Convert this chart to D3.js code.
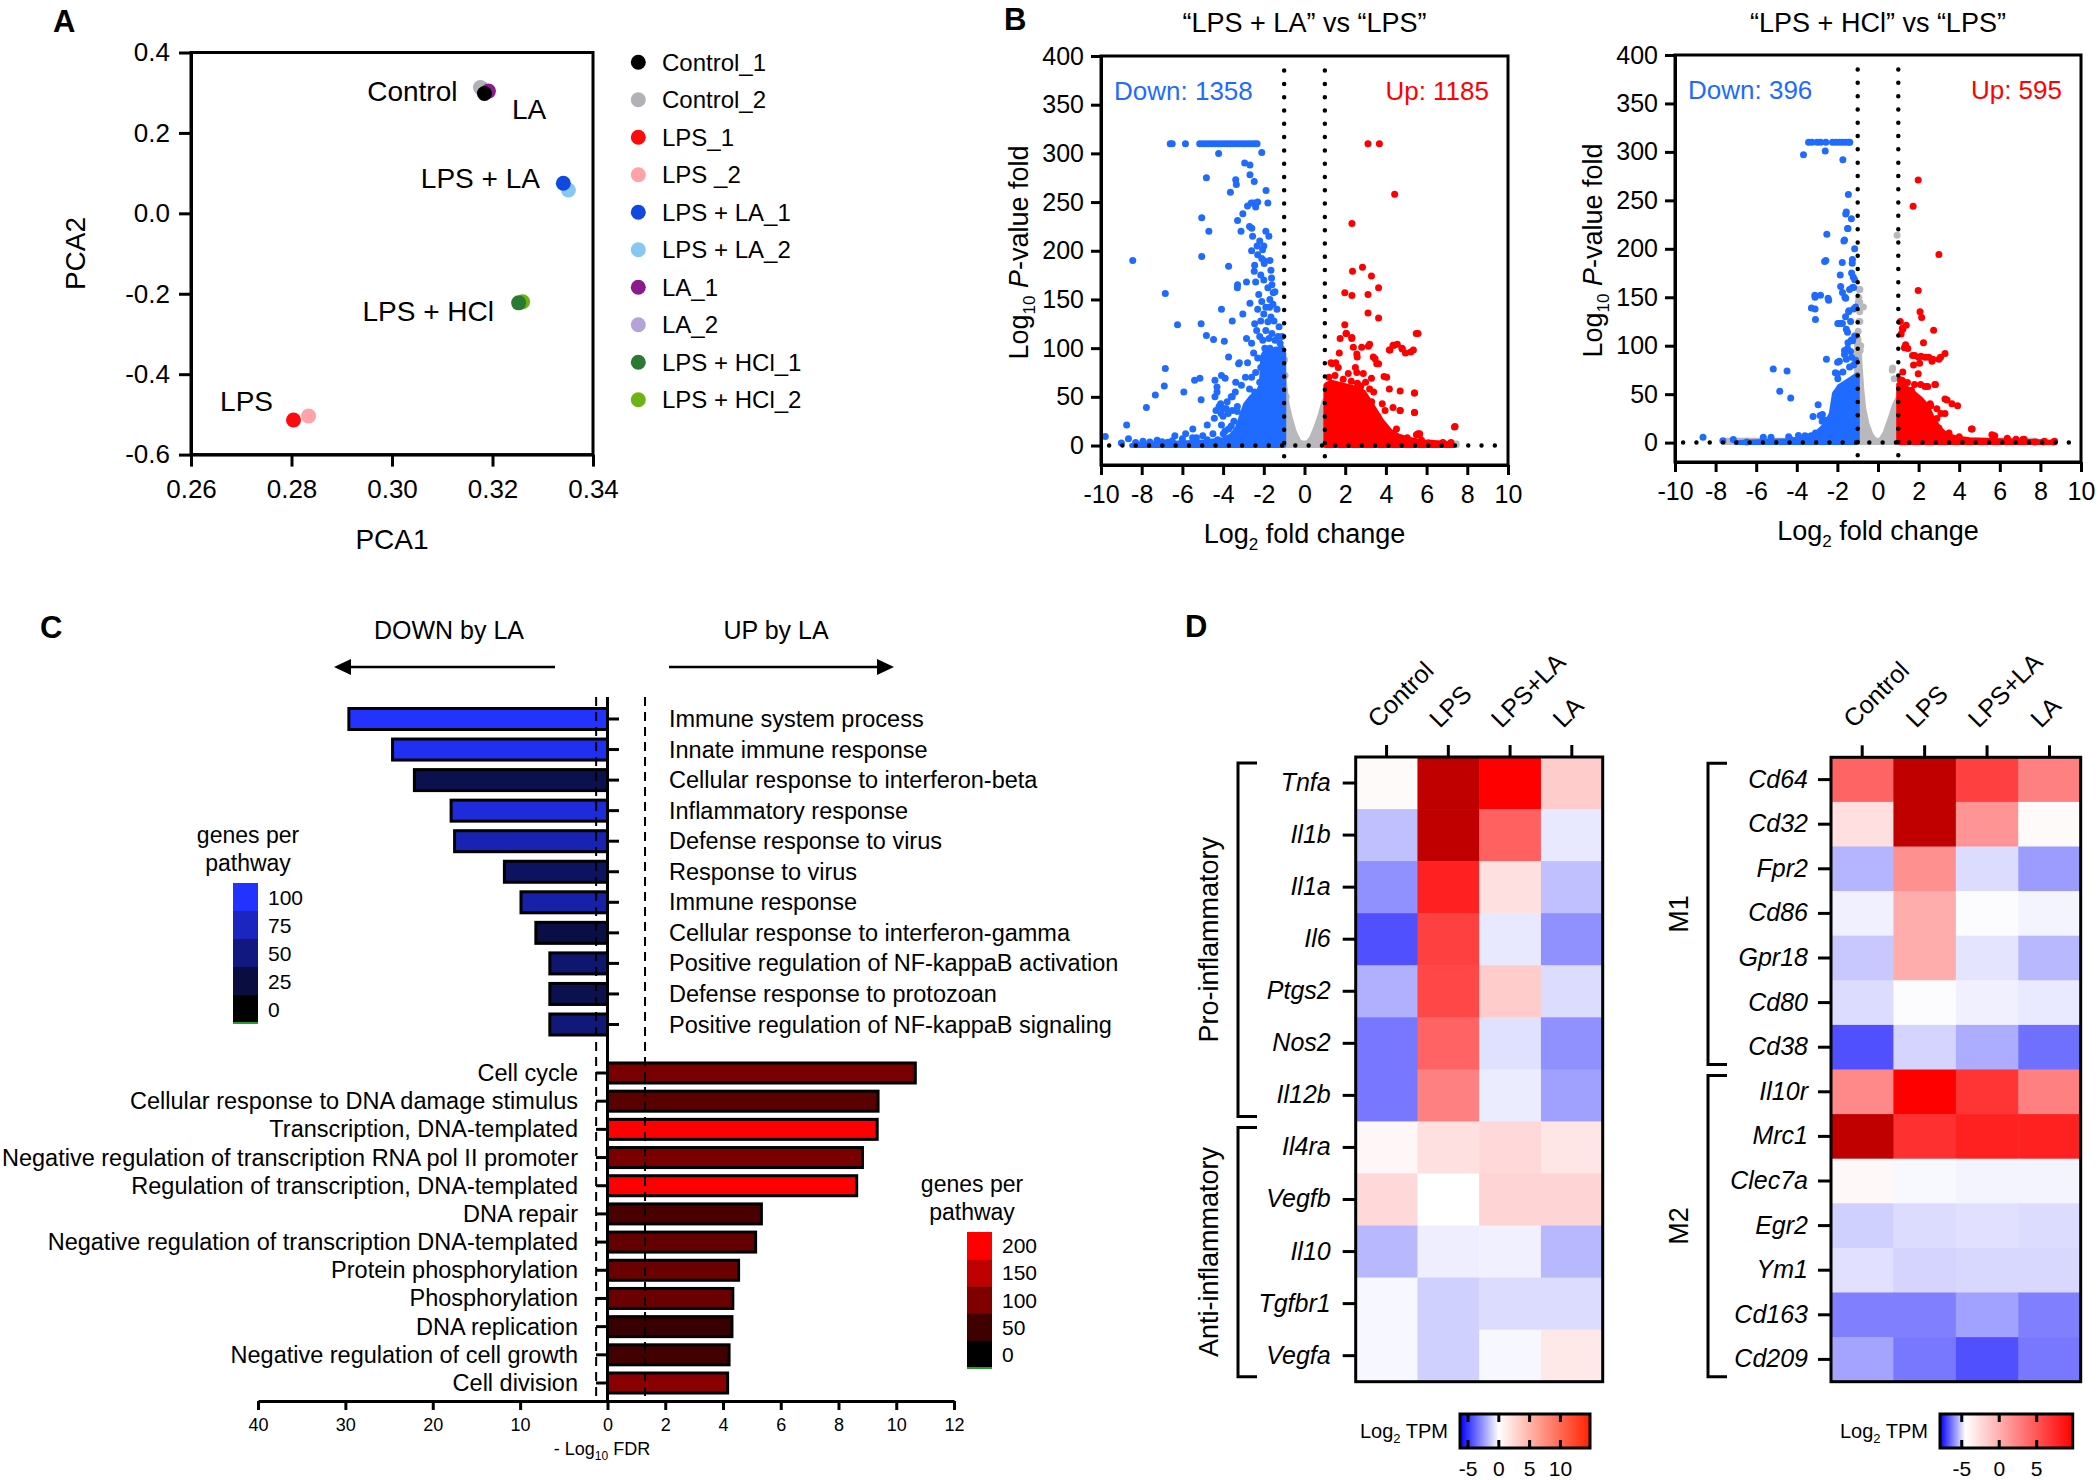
<!DOCTYPE html>
<html><head><meta charset="utf-8">
<script src="https://cdn.jsdelivr.net/npm/d3@7"></script>
<style>
body{margin:0;background:#fff}
svg{display:block}
text{font-family:"Liberation Sans",Arial,Helvetica,sans-serif;fill:#000}
</style>
</head><body>
<svg id="fig" width="2100" height="1480"></svg>
<script>
// ===================== DATA =====================
// Panel A: PCA
const pcaSamples = ["Control_1","Control_2","LPS_1","LPS _2","LPS + LA_1","LPS + LA_2","LA_1","LA_2","LPS + HCl_1","LPS + HCl_2"];
const pca1 = [0.3184,0.3176,0.2804,0.2834,0.3341,0.3351,0.3192,0.3178,0.3252,0.3260];
const pca2 = [0.298,0.313,-0.514,-0.504,0.075,0.058,0.304,0.311,-0.2226,-0.220];
const pcaGroups = ["Control","LA","LPS + LA","LPS + HCl","LPS"];
const pcaGroupAnchor = [0,6,4,8,2];
const pcaXTicks = [0.26,0.28,0.30,0.32,0.34];
const pcaYTicks = [-0.6,-0.4,-0.2,0.0,0.2,0.4];

// Panel B: volcano plots  [log2FC, -log10 p]
const volcXTicks = [-10,-8,-6,-4,-2,0,2,4,6,8,10];
const volcYTicks = [0,50,100,150,200,250,300,350,400];
const volc1Title = "\u201CLPS + LA\u201D vs \u201CLPS\u201D";
const volc2Title = "\u201CLPS + HCl\u201D vs \u201CLPS\u201D";
const volc1Counts = [1358,1185];
const volc2Counts = [396,595];
const volc1Down = [[-9.79,9.2],[-8.74,21],[-8.44,190],[-7.77,39],[-7.33,52],[-6.89,61],[-6.84,156],[-6.84,79],[-6.24,124],[-5.93,55],[-5.4,67],[-5.14,69],[-5.08,47],[-5.08,125],[-5.05,194],[-5.05,234],[-4.82,275],[-4.82,113],[-4.70,220],[-4.47,109],[-4.40,67],[-4.35,36],[-4.22,300],[-4.12,43],[-4.08,140],[-3.94,107],[-3.73,184],[-3.64,260],[-3.38,273],[-3.35,268],[-3.29,231],[-3.29,165],[-3.24,84],[-3.12,220],[-3.03,238],[-2.94,290],[-2.68,288],[-2.68,278],[-2.62,249],[-2.47,271],[-2.1,301],[-1.89,262],[-1.80,249],[-2.59,223],[-2.33,205],[-2.06,201],[-2.47,179],[-1.98,187],[-1.62,172],[-1.54,157],[-1.71,142],[-2.85,168],[-2.68,146],[-3.55,128],[-3.03,135],[-3.73,91],[-4.08,72],[-4.43,28],[-4.78,21],[-5.49,17],[-5.84,12],[-6.37,10],[-7.24,5.5],[-7.94,4.4],[-8.65,7],[-3.55,50],[-3.9,69],[-3.38,65],[-3.47,25],[-3.73,17],[-3.99,12],[-4.08,21],[-4.26,6],[-4.78,6],[-5.31,8],[-6.01,4.4],[-6.72,3.3],
 [-1.2,105],[-1.3,112],[-1.45,108],[-1.6,115],[-1.75,110],[-1.9,118],[-2.05,108],[-2.2,112],[-2.35,118],[-1.25,122],[-1.5,128],[-1.65,132],[-1.8,127],[-2.0,135],[-2.15,128],[-2.3,140],[-2.45,125],[-1.35,140],[-1.55,145],[-1.7,150],[-1.9,142],[-2.1,148],[-2.25,155],[-1.45,158],[-1.8,162],[-2.0,170],[-1.6,165],[-1.15,100],[-1.4,98],[-1.95,100],[-1.1,112],[-1.7,100],
 [-2.2,65],[-2.4,75],[-2.6,70],[-2.8,85],[-2.3,90],[-2.5,95],[-3.1,62],[-2.7,58],[-3.4,55],[-3.6,50],[-3.8,45],[-3.3,40],[-4.0,38],[-2.15,80],[-2.45,55],[-2.9,70],[-3.2,85],[-2.6,105],[-2.85,110],
 [-4.3,60],[-4.3,55],[-4.4,50],[-4.2,40],[-4.1,33],[-4.0,30],[-3.85,38],[-3.75,33],[-3.55,36],[-3.3,35],[-3.6,20],[-3.9,15],[-4.5,12],[-5.0,10],[-5.5,8],[-6.0,7],[-6.5,5],[-7.0,4],[-7.6,3.5],[-8.3,3],[-9.0,2.5],
 [-2.8,246],[-2.5,249],[-2.3,250],[-2.4,245],[-2.7,225],[-2.55,215],[-2.3,196],[-2.1,192],[-2.0,190],[-2.6,200],[-2.45,185],[-3.3,162],[-2.2,210],[-2.0,205],[-1.9,220],[-1.75,215],[-1.7,190],[-1.65,180],[-2.4,168],[-2.15,175],
 [-6.6,310],[-6.5,310],[-5.85,310],[-5.15,310],[-5.0,310],[-4.85,310],[-4.7,310],[-4.55,310],[-4.4,310],[-4.25,310],[-4.1,310],[-3.95,310],[-3.8,310],[-3.65,310],[-3.5,310],[-3.35,310],[-3.2,310],[-3.05,310],[-2.9,310],[-2.75,310],[-2.6,310],[-2.45,310],[-2.33,310]];
const volc1Up = [[3.12,310],[3.68,310],[4.43,258],[2.33,228],[2.36,179],[2.85,183],[3.29,174],[3.64,162],[1.98,157],[2.33,154],[3.12,155],[3.12,136],[3.64,131],[1.98,124],[2.06,115],[2.33,111],[5.49,115],[4.35,103],[4.56,104],[4.17,98],[4.79,100],[4.96,95],[5.22,96],[3.2,104],[3.47,89],[3.64,84],[3.91,71],[4.17,58],[4.70,56],[5.40,54],[5.40,34],[4.70,36],[5.58,12],[5.66,12],[7.37,19],[6.8,2.6],[6.1,2.6],[1.36,84],[1.54,85],[1.71,95],[1.27,61],[2.59,91],[2.77,61],[2.5,80],[3.29,69],[3.82,43],[4.35,39],[4.52,17],[3.99,14],[5.05,8],[5.75,5.5],
 [2.04,115],[2.32,110],[2.4,101],[2.57,94],[2.81,101],[3.14,102],[3.38,91],[3.55,84],[2.89,74],[2.57,75],[2.15,74],[1.66,80],[1.4,60],[4.04,70],[3.96,36],[4.7,36],[5.41,54],[5.41,34],[5.58,115],[5.35,98],[4.8,99],[4.4,103],[4.2,98],[7.4,19.5],[5.5,11],[5.65,11],[7.2,3],[6.8,3],[4.5,7],[4.75,7],[3.3,45],[3.6,30],[3.9,20],[3.45,15],[3.0,65],[3.2,58],[3.4,55],[1.2,70],[1.5,72],[1.9,68],[2.3,66],[2.6,64],[1.75,110],[1.3,85]];
const volc1DownCore = [[-1.02,0],[-1.02,95],[-1.3,99],[-1.6,98],[-1.9,97],[-2.05,92],[-2.12,62],[-2.3,54],[-2.6,50],[-2.9,42],[-3.1,30],[-3.3,18],[-3.6,10],[-4.0,6],[-5,3.5],[-6.5,2],[-8,1],[-8.5,0]];
const volc1UpCore = [[1.05,0],[1.05,62],[1.3,65],[1.7,63],[2.1,61],[2.5,59],[2.9,55],[3.2,45],[3.5,35],[3.8,25],[4.2,15],[4.6,10],[5.0,7],[5.5,5],[6.0,3.5],[7.0,2],[7.3,0]];
const volc1NsCore = [[-1.05,0],[-1.05,76],[-0.97,62],[-0.85,42],[-0.7,28],[-0.5,14],[-0.3,5],[-0.1,1.5],[0.12,1.5],[0.35,8],[0.55,18],[0.75,30],[0.95,45],[1.05,48],[1.05,0]];
const volc1NsBand = [[-8,0],[7.5,0],[7.5,2.5],[-8,2.5]];
const volc1NsPts = [[-0.98,88],[-0.95,72],[-0.9,50]];

const volc2Down = [[-3.42,310],[-3.25,310],[-3.0,310],[-2.83,310],[-2.57,310],[-2.24,310],[-2.07,310],[-1.9,310],[-1.75,310],[-1.6,310],[-1.45,310],[-1.39,310],
 [-3.67,297],[-2.6,301],[-1.73,292],[-1.46,256],[-1.56,238],[-1.31,231],[-1.48,221],[-2.52,215],[-1.65,209],[-2.57,188],[-1.76,186],[-1.26,189],[-1.86,173],[-1.22,171],[-3.11,152],[-2.83,152],[-2.46,149],[-3.28,139],[-3.08,127],[-1.81,123],[-1.98,123],[-1.43,136],[-1.63,150],[-1.26,160],[-2.54,86],[-1.9,84],[-1.56,86],[-5.16,76],[-4.48,74],[-4.84,53],[-4.3,46],[-2.95,39],[-3.2,27],[-2.74,29],[-2.6,23],[-3.92,7.4],[-4.3,3.3],[-5.27,5.6],[-5.65,5.6],[-6.46,0.7],[-7.13,3.3],[-8.62,5.6],[-7.64,1.9],[-3.54,6.3],[-3.08,10],[-2.24,17],[-2.15,36],[-2.07,51],[-1.98,66],[-1.73,73],[-1.65,91],[-1.48,103],[-1.31,106],[-1.56,117],[-1.39,62],[-1.81,43],
 [-1.59,236],[-1.5,221],[-1.68,208],[-2.63,187],[-1.84,161],[-1.75,155],[-1.27,185],[-1.3,175],[-1.15,168],[-1.2,160],[-1.4,158],[-3.1,150],[-2.43,147],[-1.59,149],[-3.1,138],[-1.9,123],[-1.75,123],[-1.5,114],[-1.6,130],[-1.45,135],[-1.2,138],[-1.5,97],[-1.35,94],[-1.65,95],[-1.99,83],[-2.0,71],[-2.1,72],[-2.85,28],[-2.75,22],[-2.5,14],[-2.35,10],[-2.8,10],[-3.6,7],[-3.3,7],[-4.4,6],[-1.2,80],[-1.3,88],[-1.1,85],[-1.4,78],[-1.25,105],[-1.15,110],[-1.35,125],[-1.1,140],[-1.15,200]];
const volc2Up = [[1.98,271],[1.73,244],[3.0,194],[1.98,157],[2.07,135],[2.15,129],[2.74,116],[1.22,117],[1.39,121],[1.14,112],[2.24,103],[1.36,101],[1.47,97],[3.3,92],[3.08,88],[2.12,89],[2.32,88],[1.81,90],[2.66,84],[1.22,73],[1.98,71],[2.83,60],[2.32,58],[1.65,54],[3.3,45],[3.64,40],[3.92,38],[2.57,40],[3.3,30],[4.6,14],[5.61,8],[6.37,4.4],[7.13,3.3],[8.14,0.7],[8.65,0.7],[7.72,0.7],[4.0,6],[3.5,10],
 [1.1,125],[1.2,118],[1.3,98],[1.7,90],[2.0,88],[2.5,88],[3.0,86],[2.7,86],[1.75,80],[2.05,82],[1.1,65],[1.2,64],[1.45,62],[1.8,60],[2.1,60],[2.45,58],[2.8,60],[3.4,44],[2.6,38],[2.9,35],[3.1,30],[2.9,25],[2.7,20],[3.0,15],[4.64,14],[5.75,7],[7.2,3.5],[6.8,3.5],[6.4,2.5],[8.2,1.5],[8.7,1.5]];
const volc2DownCore = [[-1.02,0],[-1.02,70],[-1.3,66],[-1.6,62],[-1.9,58],[-2.15,50],[-2.3,30],[-2.6,18],[-3.0,10],[-3.5,5],[-4.5,2],[-6,1],[-7,0]];
const volc2UpCore = [[1.02,0],[1.02,60],[1.3,58],[1.7,52],[2.1,45],[2.4,38],[2.7,25],[3.0,15],[3.3,9],[3.8,5],[4.5,3],[6,2],[7.5,1.2],[8.6,0.5],[8.7,0]];
const volc2NsCore = [[-1.05,0],[-1.05,110],[-0.95,108],[-0.88,80],[-0.8,55],[-0.7,35],[-0.55,20],[-0.35,8],[-0.1,1.5],[0.1,1.5],[0.35,10],[0.6,25],[0.8,38],[0.95,45],[1.02,45],[1.02,0]];
const volc2NsBand = [[-7.5,0],[7.8,0],[7.8,2.5],[-7.5,2.5]];
const volc2NsPts = [[-0.89,158],[-0.72,140],[-0.89,125],[0.94,214],[0.72,77],[0.8,66],[-0.95,150],[-0.9,145],[-0.98,115],[-0.95,125],[-0.9,135],[-0.97,145],[-0.92,158],[-0.85,100],[-0.88,95],[0.7,75]];

// Panel C: GO enrichment
const downTerms = ["Immune system process","Innate immune response","Cellular response to interferon-beta","Inflammatory response","Defense response to virus","Response to virus","Immune response","Cellular response to interferon-gamma","Positive regulation of NF-kappaB activation","Defense response to protozoan","Positive regulation of NF-kappaB signaling"];
const downFDR = [29.6,24.6,22.1,17.9,17.5,11.8,9.9,8.2,6.6,6.6,6.6];
const downGenes = [100,95,31,86,70,38,66,28,44,31,47];
const upTerms = ["Cell cycle","Cellular response to DNA damage stimulus","Transcription, DNA-templated","Negative regulation of transcription RNA pol II promoter","Regulation of transcription, DNA-templated","DNA repair","Negative regulation of transcription DNA-templated","Protein phosphorylation","Phosphorylation","DNA replication","Negative regulation of cell growth","Cell division"];
const upFDR = [10.66,9.37,9.34,8.83,8.63,5.33,5.13,4.54,4.34,4.31,4.21,4.16];
const upGenes = [95,71,200,96,200,58,79,83,83,44,52,108];
const fdrLeftTicks = [40,30,20,10,0];
const fdrRightTicks = [2,4,6,8,10,12];
const blueLegendTicks = [100,75,50,25,0];
const redLegendTicks = [200,150,100,50,0];

// Panel D: heatmaps (Log2 TPM)
const heatColumns = ["Control","LPS","LPS+LA","LA"];
const proGenes = ["Tnfa","Il1b","Il1a","Il6","Ptgs2","Nos2","Il12b"];
const antiGenes = ["Il4ra","Vegfb","Il10","Tgfbr1","Vegfa"];
const leftValues = [
 [0.2,14,10,2],
 [-1.56,14,6.2,-0.57],
 [-2.74,8.7,1.2,-1.56],
 [-4.32,7.5,-0.57,-2.74],
 [-1.96,7.2,2.0,-0.87],
 [-3.35,6.1,-0.76,-2.74],
 [-3.35,5.0,-0.47,-2.35],
 [0.3,1.2,1.5,1.0],
 [1.5,0,1.7,1.7],
 [-1.76,-0.42,-0.37,-1.76],
 [-0.19,-1.15,-0.87,-0.87],
 [-0.19,-1.15,-0.19,0.9]];
const m1Genes = ["Cd64","Cd32","Fpr2","Cd86","Gpr18","Cd80","Cd38"];
const m2Genes = ["Il10r","Mrc1","Clec7a","Egr2","Ym1","Cd163","Cd209"];
const rightValues = [
 [4.2,13,6.2,2.65],
 [-2.7,13,1.5,-4.2],
 [-5.5,1.7,-4.97,-5.82],
 [-4.7,0.15,-4.54,-4.65],
 [-5.23,0.15,-4.86,-5.45],
 [-4.97,-4.54,-4.7,-4.8],
 [-6.83,-5.07,-5.6,-6.4],
 [2.2,9.8,6.9,2.65],
 [13,7.1,8.0,8.0],
 [-4.1,-4.6,-4.65,-4.65],
 [-5.13,-4.97,-4.9,-4.97],
 [-4.9,-5.07,-5.02,-5.02],
 [-6.2,-6.2,-5.76,-6.2],
 [-5.71,-6.3,-6.83,-6.3]];
const leftLegendTicks = [-5,0,5,10];
const rightLegendTicks = [-5,0,5];

// ===================== DRAWING =====================
const FONT = '"Liberation Sans", Arial, Helvetica, sans-serif';
const svg = d3.select("#fig");
svg.append("rect").attr("width",2100).attr("height",1480).attr("fill","#fff");

function styleAxis(g, fs){
  g.attr("font-family",FONT).attr("font-size",fs);
  g.selectAll("path.domain").attr("stroke","#000").attr("stroke-width",3);
  g.selectAll(".tick line").attr("stroke","#000").attr("stroke-width",3);
  g.selectAll(".tick text").attr("fill","#000");
}
function panelLabel(t,x,y){
  svg.append("text").attr("x",x).attr("y",y).attr("font-size",31).attr("font-weight","bold").text(t);
}
function subText(sel, parts){
  parts.forEach(p=>{
    const t = sel.append("tspan").text(p[0]);
    if(p[1]==='sub'){ t.attr("font-size",p[2]).attr("dy",p[3]); }
    else if(p[1]==='up'){ t.attr("dy",p[3]); }
    else if(p[1]==='it'){ t.attr("font-style","italic"); }
  });
}

// ---------- Panel A ----------
panelLabel("A",53,32);
{
  const x = d3.scaleLinear([0.26,0.34],[191,593]);
  const y = d3.scaleLinear([-0.6,0.4],[454.6,52.5]);
  const g = svg.append("g");
  const ax = g.append("g").attr("transform","translate(0,454.6)")
    .call(d3.axisBottom(x).tickValues(pcaXTicks).tickFormat(d=>d.toFixed(2)).tickSize(12).tickPadding(13).tickSizeOuter(0));
  styleAxis(ax,26);
  const ay = g.append("g").attr("transform","translate(191,0)")
    .call(d3.axisLeft(y).tickValues(pcaYTicks).tickFormat(d=>d.toFixed(1)).tickSize(12).tickPadding(9).tickSizeOuter(0));
  styleAxis(ay,26);
  g.append("rect").attr("x",191).attr("y",52.5).attr("width",402).attr("height",402.1)
    .attr("fill","none").attr("stroke","#000").attr("stroke-width",3);
  const pcaColors = ["#000000","#b1b1b6","#ff0a0a","#ffa2aa","#1048e0","#86c8f2","#8b1a8e","#b4a2d8","#2b7a33","#6cb414"];
  const order = [7,1,3,5,9,6,2,4,8,0];
  g.selectAll("circle.pt").data(order).join("circle")
    .attr("cx",i=>x(pca1[i])).attr("cy",i=>y(pca2[i])).attr("r",7.5).attr("fill",i=>pcaColors[i]);
  const offs = [[-27,7.5,"end"],[23.5,27.5,"start"],[-23.4,4.8,"end"],[-24.6,18,"end"],[-20.5,-9,"end"]];
  pcaGroups.forEach((lab,k)=>{
    const i = pcaGroupAnchor[k];
    g.append("text").attr("x",x(pca1[i])+offs[k][0]).attr("y",y(pca2[i])+offs[k][1])
      .attr("text-anchor",offs[k][2]).attr("font-size",28).text(lab);
  });
  g.append("text").attr("x",392).attr("y",549).attr("text-anchor","middle").attr("font-size",28).text("PCA1");
  g.append("text").attr("transform","translate(85,253.5) rotate(-90)").attr("text-anchor","middle").attr("font-size",28).text("PCA2");
  const lg = g.append("g");
  pcaSamples.forEach((s,i)=>{
    const yy = 62.3 + i*37.5;
    lg.append("circle").attr("cx",638.3).attr("cy",yy).attr("r",7.5).attr("fill",pcaColors[i]);
    lg.append("text").attr("x",662).attr("y",yy+8.5).attr("font-size",24).text(s);
  });
}

// ---------- Panel B ----------
panelLabel("B",1004,30);
const BLUE = "#1f6bff", RED = "#ff0000", GRAY = "#b9b9bd";
function volcano(c){
  const x = d3.scaleLinear([-10,10],[c.left,c.right]);
  const y = d3.scaleLinear([-20,400],[c.bottom,c.top]);
  const g = svg.append("g");
  const cid = "clip"+c.id;
  g.append("clipPath").attr("id",cid).append("rect").attr("x",c.left).attr("y",c.top).attr("width",c.right-c.left).attr("height",c.bottom-c.top);
  const pg = g.append("g").attr("clip-path",`url(#${cid})`);
  const line = d3.line().x(d=>x(d[0])).y(d=>y(d[1]));
  const poly = (pts,col)=>pg.append("path").attr("d",line(pts)+"Z").attr("fill",col).attr("stroke",col).attr("stroke-width",5).attr("stroke-linejoin","round");
  const pts = (data,col)=>pg.append("g").selectAll("circle").data(data).join("circle").attr("cx",d=>x(d[0])).attr("cy",d=>y(d[1])).attr("r",3.5).attr("fill",col);
  poly(c.nsBand,GRAY);
  poly(c.nsCore,GRAY);
  pts(c.nsPts,GRAY);
  poly(c.downCore,BLUE);
  pts(c.down,BLUE);
  poly(c.upCore,RED);
  pts(c.up,RED);
  const dot = (x1,y1,x2,y2)=>pg.append("line").attr("x1",x1).attr("y1",y1).attr("x2",x2).attr("y2",y2)
    .attr("stroke","#000").attr("stroke-width",4.5).attr("stroke-linecap","round").attr("stroke-dasharray","0,13.3");
  dot(x(-9.6),y(0),x(10),y(0));
  dot(x(-1),y(385),x(-1),y(-17));
  dot(x(1),y(385),x(1),y(-17));
  const ax = g.append("g").attr("transform",`translate(0,${c.bottom})`)
    .call(d3.axisBottom(x).tickValues(volcXTicks).tickFormat(d=>String(d)).tickSize(10).tickPadding(10).tickSizeOuter(0));
  styleAxis(ax,25);
  const ay = g.append("g").attr("transform",`translate(${c.left},0)`)
    .call(d3.axisLeft(y).tickValues(volcYTicks).tickSize(10).tickPadding(7).tickSizeOuter(0));
  styleAxis(ay,25);
  g.append("rect").attr("x",c.left).attr("y",c.top).attr("width",c.right-c.left).attr("height",c.bottom-c.top)
    .attr("fill","none").attr("stroke","#000").attr("stroke-width",3);
  g.append("text").attr("x",(c.left+c.right)/2).attr("y",32).attr("text-anchor","middle").attr("font-size",27).text(c.title);
  g.append("text").attr("x",c.left+13).attr("y",c.top+44).attr("font-size",26).style("fill",BLUE).text("Down: "+c.counts[0]);
  g.append("text").attr("x",c.right-19).attr("y",c.top+44).attr("text-anchor","end").attr("font-size",26).style("fill",RED).text("Up: "+c.counts[1]);
  const xl = g.append("text").attr("x",(c.left+c.right)/2).attr("y",c.bottom+78).attr("text-anchor","middle").attr("font-size",27);
  subText(xl,[["Log"],["2",'sub',17,7],[" fold change",'up',0,-7]]);
  const yl = g.append("text").attr("transform",`translate(${c.left-73},${(c.top+c.bottom)/2-8}) rotate(-90)`).attr("text-anchor","middle").attr("font-size",27);
  subText(yl,[["Log"],["10",'sub',17,7],[" ",'up',0,-7],["P",'it'],["-value fold"]]);
}
volcano({id:1,left:1101,right:1508,top:56,bottom:465,title:volc1Title,counts:volc1Counts,down:volc1Down,up:volc1Up,downCore:volc1DownCore,upCore:volc1UpCore,nsCore:volc1NsCore,nsBand:volc1NsBand,nsPts:volc1NsPts});
volcano({id:2,left:1675,right:2081,top:55,bottom:462,title:volc2Title,counts:volc2Counts,down:volc2Down,up:volc2Up,downCore:volc2DownCore,upCore:volc2UpCore,nsCore:volc2NsCore,nsBand:volc2NsBand,nsPts:volc2NsPts});

// ---------- Panel C ----------
panelLabel("C",40,638);
{
  const g = svg.append("g");
  const xL = d3.scaleLinear([0,40],[607.5,258]);
  const xR = d3.scaleLinear([0,12],[607.5,954]);
  const yTop = d3.scalePoint(downTerms,[719,1024.5]);
  const yBot = d3.scalePoint(upTerms,[1073,1383]);
  const blueC = d3.scaleLinear([0,100],["#000000","#2232ff"]);
  const redC = d3.scaleLinear([0,200],["#000000","#ff0000"]);
  const axisTop = 697, axisBottom = 1401;
  g.append("text").attr("x",449).attr("y",639).attr("text-anchor","middle").attr("font-size",25).text("DOWN by LA");
  g.append("text").attr("x",776).attr("y",639).attr("text-anchor","middle").attr("font-size",25).text("UP by LA");
  g.append("line").attr("x1",348).attr("x2",555).attr("y1",667).attr("y2",667).attr("stroke","#000").attr("stroke-width",2.5);
  g.append("path").attr("d","M334,667 L351,659 L351,675 Z").attr("fill","#000");
  g.append("line").attr("x1",669).attr("x2",880).attr("y1",667).attr("y2",667).attr("stroke","#000").attr("stroke-width",2.5);
  g.append("path").attr("d","M894,667 L877,659 L877,675 Z").attr("fill","#000");
  g.selectAll("rect.dn").data(downTerms).join("rect")
    .attr("x",(d,i)=>xL(downFDR[i])).attr("y",d=>yTop(d)-10.5).attr("width",(d,i)=>xL(0)-xL(downFDR[i])).attr("height",21)
    .attr("fill",(d,i)=>blueC(downGenes[i])).attr("stroke","#000").attr("stroke-width",3);
  g.selectAll("rect.up").data(upTerms).join("rect")
    .attr("x",xR(0)).attr("y",d=>yBot(d)-10).attr("width",(d,i)=>xR(upFDR[i])-xR(0)).attr("height",20)
    .attr("fill",(d,i)=>redC(upGenes[i])).attr("stroke","#000").attr("stroke-width",3);
  [xL(1.3),xR(1.3)].forEach(xx=>g.append("line").attr("x1",xx).attr("x2",xx).attr("y1",axisTop).attr("y2",axisBottom)
    .attr("stroke","#000").attr("stroke-width",2).attr("stroke-dasharray","9,6"));
  g.append("line").attr("x1",607.5).attr("x2",607.5).attr("y1",axisTop).attr("y2",axisBottom).attr("stroke","#000").attr("stroke-width",3);
  downTerms.forEach(d=>g.append("line").attr("x1",607.5).attr("x2",619).attr("y1",yTop(d)).attr("y2",yTop(d)).attr("stroke","#000").attr("stroke-width",3));
  upTerms.forEach(d=>g.append("line").attr("x1",596).attr("x2",607.5).attr("y1",yBot(d)).attr("y2",yBot(d)).attr("stroke","#000").attr("stroke-width",3));
  g.selectAll("text.dn").data(downTerms).join("text").attr("x",669).attr("y",d=>yTop(d)+8).attr("font-size",23.5).text(d=>d);
  g.selectAll("text.up").data(upTerms).join("text").attr("x",578).attr("y",d=>yBot(d)+8).attr("text-anchor","end").attr("font-size",23.5).text(d=>d);
  const a1 = g.append("g").attr("transform",`translate(0,${axisBottom})`)
    .call(d3.axisBottom(xL).tickValues(fdrLeftTicks).tickSize(9).tickPadding(8).tickSizeOuter(0));
  styleAxis(a1,18);
  const a2 = g.append("g").attr("transform",`translate(0,${axisBottom})`)
    .call(d3.axisBottom(xR).tickValues(fdrRightTicks).tickSize(9).tickPadding(8).tickSizeOuter(0));
  styleAxis(a2,18);
  const fl = g.append("text").attr("x",602).attr("y",1455).attr("text-anchor","middle").attr("font-size",18);
  subText(fl,[["- Log"],["10",'sub',12,5],[" FDR",'up',0,-5]]);
  function legend(cx, barX, barTop, blockH, ticks, cs){
    g.append("text").attr("x",cx).attr("y",barTop-40).attr("text-anchor","middle").attr("font-size",23).text("genes per");
    g.append("text").attr("x",cx).attr("y",barTop-12).attr("text-anchor","middle").attr("font-size",23).text("pathway");
    ticks.forEach((t,i)=>{
      g.append("rect").attr("x",barX).attr("y",barTop+i*blockH).attr("width",25).attr("height",blockH+0.5).attr("fill",cs(t));
      g.append("text").attr("x",barX+35).attr("y",barTop+i*blockH+blockH/2+7.5).attr("font-size",21).text(t);
    });
    g.append("line").attr("x1",barX).attr("x2",barX+25).attr("y1",barTop+ticks.length*blockH).attr("y2",barTop+ticks.length*blockH).attr("stroke","#2a9a2a").attr("stroke-width",2);
  }
  legend(248,233,883,28,blueLegendTicks,blueC);
  legend(972,967,1232,27.2,redLegendTicks,redC);
}

// ---------- Panel D ----------
panelLabel("D",1185,637);
function heatmap(c){
  const g = svg.append("g");
  const genes = c.groups[0].genes.concat(c.groups[1].genes);
  const x = d3.scaleBand(heatColumns,[c.left,c.right]);
  const y = d3.scaleBand(genes,[c.top,c.bottom]);
  genes.forEach((gname,r)=>{
    heatColumns.forEach((col,k)=>{
      g.append("rect").attr("x",x(col)).attr("y",y(gname)).attr("width",x.bandwidth()+0.6).attr("height",y.bandwidth()+0.6)
        .attr("fill",c.color(c.values[r][k]));
    });
  });
  g.append("rect").attr("x",c.left).attr("y",c.top).attr("width",c.right-c.left).attr("height",c.bottom-c.top)
    .attr("fill","none").attr("stroke","#000").attr("stroke-width",3);
  const ay = g.append("g").attr("transform",`translate(${c.left},0)`)
    .call(d3.axisLeft(y).tickSize(13).tickPadding(c.labelPad).tickSizeOuter(0));
  styleAxis(ay,25);
  ay.select("path.domain").remove();
  ay.selectAll(".tick text").attr("font-style","italic");
  const ax = g.append("g").attr("transform",`translate(0,${c.top})`)
    .call(d3.axisTop(x).tickSize(12).tickFormat("").tickSizeOuter(0));
  styleAxis(ax,25);
  ax.select("path.domain").remove();
  heatColumns.forEach(col=>{
    g.append("text").attr("transform",`translate(${x(col)+x.bandwidth()/2-8.5},729) rotate(-45)`).attr("font-size",25).text(col);
  });
  c.groups.forEach(gr=>{
    const y1 = y(gr.genes[0])+6, y2 = y(gr.genes[gr.genes.length-1])+y.bandwidth()-5;
    g.append("path").attr("d",`M${c.brX+19},${y1} H${c.brX} V${y2} H${c.brX+19}`).attr("fill","none").attr("stroke","#000").attr("stroke-width",3);
    g.append("text").attr("transform",`translate(${c.brX-20},${(y1+y2)/2}) rotate(-90)`).attr("text-anchor","middle").attr("font-size",27).text(gr.name);
  });
  const lx = d3.scaleLinear(c.legDomain,[c.legX0,c.legX1]);
  const gid = "grad"+c.id;
  const grad = svg.append("defs").append("linearGradient").attr("id",gid).attr("x1","0%").attr("x2","100%");
  c.legStops.forEach(s=>grad.append("stop").attr("offset",((lx(s[0])-c.legX0)/(c.legX1-c.legX0)*100)+"%").attr("stop-color",s[1]));
  const ly0 = 1414, ly1 = 1448;
  g.append("rect").attr("x",c.legX0).attr("y",ly0).attr("width",c.legX1-c.legX0).attr("height",ly1-ly0).attr("fill",`url(#${gid})`).attr("stroke","#000").attr("stroke-width",3);
  c.legTicks.forEach(t=>{
    g.append("line").attr("x1",lx(t)).attr("x2",lx(t)).attr("y1",ly0).attr("y2",ly0+8).attr("stroke","#000").attr("stroke-width",3);
    g.append("line").attr("x1",lx(t)).attr("x2",lx(t)).attr("y1",ly1-8).attr("y2",ly1).attr("stroke","#000").attr("stroke-width",3);
    g.append("text").attr("x",lx(t)).attr("y",1476).attr("text-anchor","middle").attr("font-size",21).text(t);
  });
  const lt = g.append("text").attr("x",c.legX0-12).attr("y",1438).attr("text-anchor","end").attr("font-size",20);
  subText(lt,[["Log"],["2",'sub',13,5],[" TPM",'up',0,-5]]);
}
heatmap({id:"L",left:1355.7,right:1602.7,top:757,bottom:1381.7,labelPad:12,brX:1238,
  groups:[{name:"Pro-inflammatory",genes:proGenes},{name:"Anti-inflammatory",genes:antiGenes}],
  values:leftValues,
  color:d3.scaleLinear([-6.3,0,10,14],["#0000ff","#ffffff","#ff0000","#c00000"]).clamp(true),
  legDomain:[-6.3,14.8],legX0:1460,legX1:1590,legTicks:leftLegendTicks,
  legStops:[[-6.3,"#0000ff"],[0,"#ffffff"],[14.8,"#ff2200"]]});
heatmap({id:"R",left:1831,right:2080.7,top:757.3,bottom:1381.7,labelPad:10,brX:1708,
  groups:[{name:"M1",genes:m1Genes},{name:"M2",genes:m2Genes}],
  values:rightValues,
  color:d3.scaleLinear([-7.9,-4.5,9.8,13],["#0000ff","#ffffff","#ff0000","#c00000"]).clamp(true),
  legDomain:[-7.9,9.8],legX0:1940,legX1:2072.7,legTicks:rightLegendTicks,
  legStops:[[-7.9,"#0000ff"],[-4.5,"#ffffff"],[9.8,"#ff0000"]]});
</script>
</body></html>
